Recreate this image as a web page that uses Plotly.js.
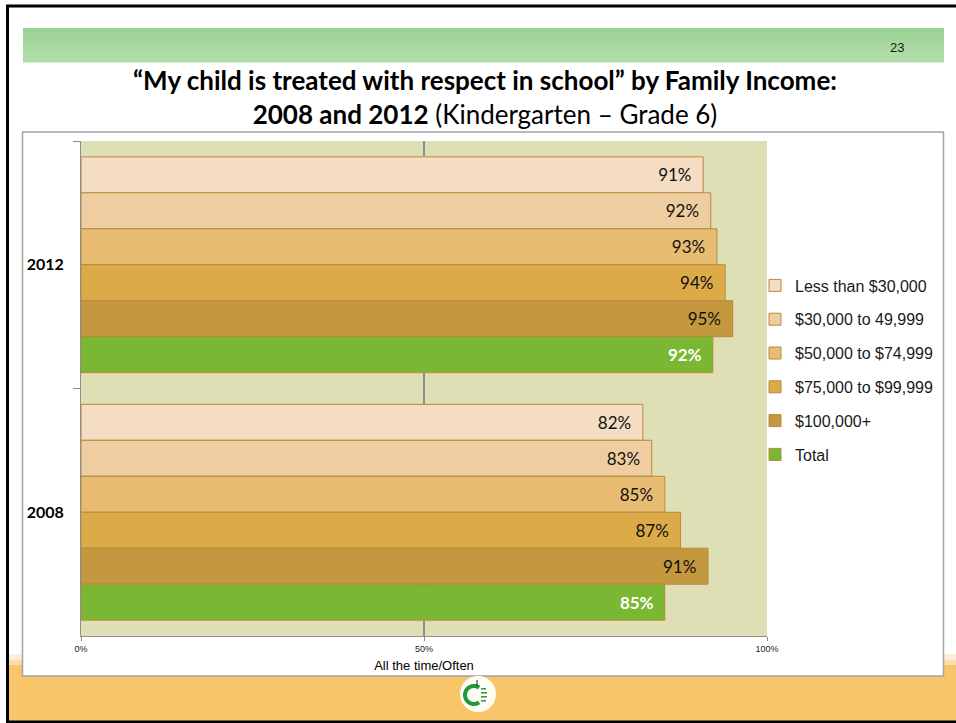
<!DOCTYPE html>
<html>
<head>
<meta charset="utf-8">
<script src="https://cdn.plot.ly/plotly-3.0.1.min.js"></script>
<style>
  html, body { margin: 0; padding: 0; background: #ffffff; }
  #chart { width: 956px; height: 723px; }
</style>
</head>
<body>
<div id="chart"></div>
<script>
// ---- Data ----
const years = ['2012', '2008'];
const seriesNames = ['Less than $30,000', '$30,000 to 49,999', '$50,000 to $74,999', '$75,000 to $99,999', '$100,000+', 'Total'];
const lessThan30k = [90.7, 81.9];
const from30to50k = [91.8, 83.2];
const from50to75k = [92.7, 85.1];
const from75to100k = [93.9, 87.4];
const over100k = [95.0, 91.4];
const totalAll = [92.1, 85.1];
const xTickVals = [0, 50, 100];
const xTickText = ['0%', '50%', '100%'];

const seriesValues = [lessThan30k, from30to50k, from50to75k, from75to100k, over100k, totalAll];
const seriesColors = ['#F4DDC2', '#EECEA0', '#E8BD73', '#DCAB48', '#C4983F', '#7AB833'];

// ---- Geometry helpers (pixel -> paper) ----
const L = 81, R = 767, T = 141, B = 636, W = 956, H = 723;
const px = x => (x - L) / (R - L);
const py = y => (B - y) / (B - T);

const traces = seriesNames.map((name, i) => ({
  type: 'bar',
  orientation: 'h',
  name: name,
  y: years,
  x: seriesValues[i],
  legendgroup: 'g' + i,
  marker: { color: seriesColors[i], line: { color: '#B8893B', width: 1 } },
  texttemplate: '%{x:.0f}%\u00A0\u00A0',
  textposition: 'inside',
  insidetextanchor: 'end',
  constraintext: 'none',
  textfont: {
    family: 'Lato, Carlito, sans-serif',
    size: 17,
    color: i === 5 ? '#FFFFFF' : '#111111',
    weight: i === 5 ? 700 : 400
  },
  hoverinfo: 'skip'
}));

// ---- Decorative slide shapes ----
const shapes = [];
function rect(x0, y0, x1, y1, fill, layer) {
  shapes.push({ type: 'rect', xref: 'paper', yref: 'paper', x0: px(x0), x1: px(x1), y0: py(y1), y1: py(y0),
    fillcolor: fill, line: { width: 0 }, layer: layer || 'below' });
}
// bottom orange band
rect(9, 654, 960, 660, '#FDEEDA');
rect(9, 660, 960, 665, '#FBDDAA');
rect(9, 665, 960, 722, '#F8C56A');
// white chart box bottom part (over orange)
rect(22.5, 640, 943.5, 676, '#FFFFFF');
// chart box outline
shapes.push({ type: 'rect', xref: 'paper', yref: 'paper', x0: px(22.5), x1: px(943.5), y0: py(676), y1: py(132),
  fillcolor: 'rgba(0,0,0,0)', line: { color: '#A3A3A3', width: 1.5 }, layer: 'below' });
// green header band (gradient in strips)
const gTop = [155, 211, 150], gBot = [178, 221, 170];
const nStrips = 8;
for (let k = 0; k < nStrips; k++) {
  const t = k / (nStrips - 1);
  const c = gTop.map((v, j) => Math.round(v + (gBot[j] - v) * t));
  const y0 = 28 + (62 - 28) * k / nStrips, y1 = 28 + (62 - 28) * (k + 1) / nStrips;
  rect(23, y0, 944, y1 + 0.5, 'rgb(' + c.join(',') + ')');
}
// logo
shapes.push({ type: 'circle', xref: 'paper', yref: 'paper', x0: px(460), x1: px(496), y0: py(712), y1: py(676),
  fillcolor: '#FFFEF4', line: { width: 0 }, layer: 'below' });
(function () {
  const cx = 474, cy = 695, ro = 11, ri = 7;
  const a0 = 55 * Math.PI / 180, a1 = 305 * Math.PI / 180;
  let pts = [];
  const n = 24;
  for (let k = 0; k <= n; k++) { const a = a0 + (a1 - a0) * k / n; pts.push([cx + ro * Math.cos(a), cy - ro * Math.sin(a)]); }
  for (let k = n; k >= 0; k--) { const a = a0 + (a1 - a0) * k / n; pts.push([cx + ri * Math.cos(a), cy - ri * Math.sin(a)]); }
  const path = pts.map((p, k) => (k ? 'L' : 'M') + px(p[0]).toFixed(5) + ',' + py(p[1]).toFixed(5)).join(' ') + ' Z';
  shapes.push({ type: 'path', xref: 'paper', yref: 'paper', path: path, fillcolor: '#1E9A3A', line: { width: 0 }, layer: 'below' });
  [[481, 688, 486, 689], [481, 692, 487, 693], [481, 696, 487, 697], [481, 700, 486, 701]].forEach(r =>
    rect(r[0], r[1], r[2], r[3] + 0.6, '#3A9A55'));
  rect(476.5, 680, 477.5, 686, '#222222');
})();
// outer black border
shapes.push({ type: 'rect', xref: 'paper', yref: 'paper', x0: px(7.5), x1: px(990), y0: py(722), y1: py(6),
  fillcolor: 'rgba(0,0,0,0)', line: { color: '#000000', width: 3 }, layer: 'above' });

const layout = {
  width: W, height: H,
  margin: { l: L, r: W - R, t: T, b: H - B, pad: 0 },
  paper_bgcolor: '#FFFFFF',
  plot_bgcolor: '#DFDFB6',
  barmode: 'group',
  bargap: 0.128,
  bargroupgap: 0,
  showlegend: true,
  title: {
    text: '<b>\u201CMy child is treated with respect in school\u201D by Family Income:</b><br><b>2008 and 2012</b> (Kindergarten \u2013 Grade 6)',
    font: { family: 'Lato, Carlito, sans-serif', size: 26, color: '#000000' },
    x: 485 / W, xref: 'container', xanchor: 'center',
    y: 1 - 90 / H, yref: 'container', yanchor: 'middle'
  },
  xaxis: {
    range: [0, 100],
    tickmode: 'array', tickvals: xTickVals, ticktext: xTickText,
    showgrid: true, gridcolor: '#8E8E8E', gridwidth: 1.5,
    zeroline: false,
    showline: true, linecolor: '#8E8E8E', linewidth: 1,
    ticks: 'outside', ticklen: 4, tickcolor: '#8E8E8E',
    tickfont: { family: '"Liberation Sans Narrow", "Arial Narrow", "Liberation Sans", sans-serif', size: 9, color: '#222222' },
    title: { text: 'All the time/Often', font: { family: '"Liberation Sans", Arial, sans-serif', size: 13, color: '#000000' }, standoff: 8 },
    fixedrange: true
  },
  yaxis: {
    type: 'category',
    categoryorder: 'array', categoryarray: years,
    autorange: 'reversed',
    tickson: 'boundaries',
    ticks: 'outside', ticklen: 7, tickcolor: '#8E8E8E',
    showline: true, linecolor: '#8E8E8E', linewidth: 1,
    showgrid: false, zeroline: false,
    ticklabelstandoff: 13,
    tickfont: { family: 'Lato, Carlito, sans-serif', size: 16, color: '#000000', weight: 700 },
    fixedrange: true
  },
  legend: {
    x: px(755), xanchor: 'left',
    y: py(370), yanchor: 'middle',
    bgcolor: 'rgba(0,0,0,0)',
    font: { family: '"Liberation Sans", Arial, sans-serif', size: 16, color: '#1A1A1A' },
    tracegroupgap: 10,
    traceorder: 'grouped'
  },
  annotations: [{
    text: '23', xref: 'paper', yref: 'paper', x: px(897), y: py(48), xanchor: 'center', yanchor: 'middle',
    showarrow: false, font: { family: '"Liberation Sans Narrow", "Arial Narrow", "Liberation Sans", sans-serif', size: 13, color: '#1A1A1A' }
  }],
  shapes: shapes
};

Plotly.newPlot('chart', traces, layout, { displayModeBar: false, staticPlot: true });
</script>
</body>
</html>
